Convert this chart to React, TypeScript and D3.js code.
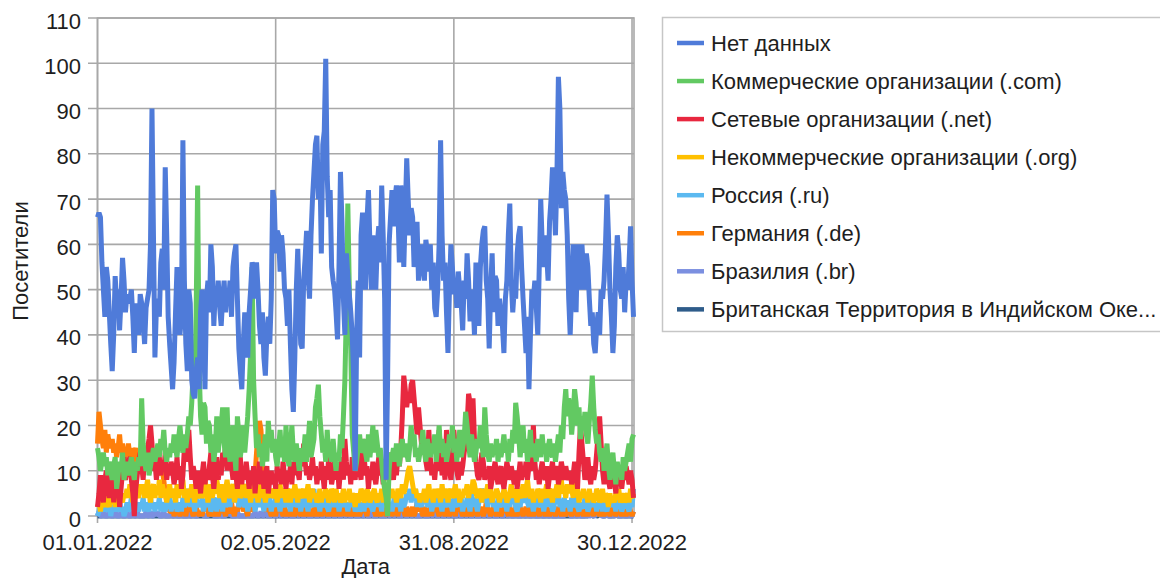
import React from 'react';
import * as d3 from 'd3';

// ---- Data (daily values, 01.01.2022 – 31.12.2022) ----
const seriesNames = [
  'Нет данных',
  'Коммерческие организации (.com)',
  'Сетевые организации (.net)',
  'Некоммерческие организации (.org)',
  'Россия (.ru)',
  'Германия (.de)',
  'Бразилия (.br)',
  'Британская Территория в Индийском Оке...',
];
const seriesColors = ['#4f7bd9', '#62c962', '#e8283f', '#ffc000', '#5bb9f0', '#ff7f0a', '#7b8fe0', '#2e5c8a'];

const tickLabels = ['01.01.2022', '02.05.2022', '31.08.2022', '30.12.2022'];
const yTicks = [0, 10, 20, 30, 40, 50, 60, 70, 80, 90, 100, 110];

const noData = [
  66,67,66,56,50,44,55,52,45,38,
  32,40,53,47,50,41,48,57,52,45,
  49,47,48,50,44,36,47,44,40,49,
  47,43,38,46,48,50,60,90,62,35,
  46,48,44,56,59,50,77,62,44,38,
  33,28,34,45,55,48,40,44,83,52,
  38,32,50,47,30,27,26,32,35,28,
  45,50,40,28,48,52,45,60,55,42,
  50,47,52,46,42,48,52,45,50,47,
  52,44,55,58,60,48,37,32,28,38,
  45,42,35,45,50,56,55,48,56,50,
  42,38,45,35,31,40,44,38,48,72,
  70,58,63,62,54,62,58,50,48,42,
  50,38,28,23,35,50,59,48,38,37,
  52,57,63,53,48,62,70,76,82,84,
  70,78,58,82,85,101,75,66,72,55,
  52,50,45,39,55,76,65,48,40,58,
  53,49,45,40,30,10,40,52,35,62,
  67,61,50,65,72,60,50,62,55,50,
  60,64,56,73,62,48,8,30,60,66,
  72,64,70,73,68,56,73,67,55,67,
  79,70,62,68,66,55,61,65,52,57,
  60,55,52,61,58,54,60,50,56,46,
  44,50,60,83,62,52,56,45,36,50,
  60,55,49,52,46,54,50,47,41,52,
  48,58,52,43,50,48,40,56,50,42,
  55,60,63,64,52,48,37,50,58,45,
  53,52,42,48,45,42,36,48,52,62,
  69,52,45,50,48,58,62,64,55,48,
  42,36,44,28,40,50,48,52,46,40,
  55,70,60,55,62,58,52,65,70,77,
  70,62,75,97,90,68,76,72,70,62,
  48,40,50,60,55,45,60,55,50,60,
  54,50,58,55,48,42,45,38,36,42,
  45,40,50,48,52,60,71,62,50,44,
  36,42,55,62,58,50,48,55,45,52,
  50,56,64,52,44,
];

const comOrg = [
  15,13,10,12,14,11,13,9,12,10,
  8,11,13,6,9,12,10,14,8,10,
  12,9,11,13,10,8,12,10,13,11,
  26,16,12,10,14,9,11,13,15,12,
  14,16,13,17,15,19,14,12,15,13,
  16,14,18,15,13,17,20,16,14,18,
  15,18,22,20,25,32,28,45,73,33,
  22,18,25,24,16,21,20,14,18,12,
  15,22,14,18,20,24,16,13,24,15,
  12,17,20,14,10,22,18,13,16,20,
  14,18,22,28,36,55,30,22,15,18,
  13,16,11,14,18,12,21,16,19,14,
  17,13,11,15,19,13,16,12,20,14,
  11,15,20,14,12,16,13,10,15,12,
  14,18,12,16,21,13,15,17,24,26,
  29,22,18,14,16,12,19,13,15,12,
  17,13,10,14,12,18,15,22,30,45,
  69,50,37,18,14,10,12,15,18,14,
  15,17,14,12,18,13,16,20,14,19,
  16,13,15,12,8,6,4,0,10,14,
  13,15,12,16,14,11,15,17,13,16,
  14,12,15,20,16,18,13,15,12,14,
  16,19,14,12,17,15,13,16,14,18,
  12,15,20,14,17,13,16,12,14,18,
  15,20,14,17,12,16,19,13,15,17,
  23,20,16,13,18,15,12,14,17,15,
  20,16,13,24,18,14,12,16,13,15,
  14,17,12,16,13,15,18,14,16,12,
  17,14,19,16,25,22,18,13,16,20,
  14,17,12,15,19,13,16,14,12,17,
  15,13,18,14,16,12,15,17,14,13,
  16,12,15,18,14,20,17,24,28,22,
  26,24,18,22,28,25,20,24,17,22,
  19,23,18,16,21,25,31,24,19,16,
  18,14,12,15,10,13,16,11,8,12,
  14,10,7,12,9,11,8,13,10,12,
  14,16,12,17,18,
];

const netOrg = [
  2,5,9,6,3,8,10,6,4,7,
  9,3,8,11,7,2,6,10,13,8,
  10,12,13,8,5,0,6,9,12,14,
  11,8,13,10,15,17,20,16,10,12,
  8,11,13,9,12,10,14,8,11,9,
  12,10,7,9,13,8,11,6,9,15,
  12,17,19,13,8,11,9,6,10,8,
  5,9,12,7,10,8,11,14,9,6,
  10,13,8,11,9,14,12,16,10,18,
  17,11,8,12,9,6,10,13,7,11,
  8,12,9,6,10,7,11,5,9,8,
  12,7,10,6,9,11,5,8,10,7,
  9,6,11,8,10,7,12,9,6,10,
  8,11,7,12,9,13,10,8,14,11,
  16,12,9,11,8,10,13,9,11,7,
  10,8,12,9,6,11,8,13,10,7,
  9,12,8,11,6,10,13,8,17,12,
  9,11,7,13,10,8,12,15,10,8,
  17,14,9,11,6,10,8,12,9,7,
  10,13,9,11,7,12,8,10,9,14,
  10,8,12,9,13,11,15,22,31,28,
  24,27,25,29,30,26,22,18,24,20,
  16,14,17,12,10,19,13,9,11,8,
  12,10,19,14,9,11,8,19,13,10,
  8,12,19,15,10,8,12,9,11,14,
  16,20,27,25,18,26,17,12,9,8,
  10,14,12,8,10,9,11,6,8,10,
  12,9,7,10,11,8,6,9,12,10,
  8,11,9,7,10,6,9,12,8,10,
  9,12,8,11,10,14,20,12,8,10,
  7,10,12,9,8,11,6,9,10,12,
  8,10,11,7,9,12,10,8,11,9,
  8,10,7,9,12,10,6,14,20,16,
  12,8,10,13,9,7,11,8,10,14,
  18,22,16,10,7,12,9,8,6,10,
  12,8,5,9,7,10,6,9,8,11,
  9,7,10,8,4,
];

const nonprofitOrg = [
  2,3,1,4,3,2,5,3,2,4,
  3,5,2,4,3,6,4,3,5,4,
  6,4,7,5,3,6,8,5,4,7,
  5,7,4,6,8,5,3,6,7,4,
  6,5,8,4,7,5,6,3,5,7,
  4,6,5,3,7,4,6,5,8,4,
  5,3,6,4,7,5,3,6,4,5,
  7,4,5,8,6,3,5,7,4,6,
  5,8,6,4,7,5,3,6,8,5,
  4,6,7,3,5,8,6,4,5,7,
  6,4,7,5,3,6,4,8,5,3,
  5,7,4,6,3,5,7,4,6,5,
  4,6,3,5,7,4,6,5,3,6,
  5,3,6,4,7,5,3,6,4,5,
  6,4,5,7,3,5,6,4,5,3,
  4,6,3,5,4,6,5,3,4,6,
  5,3,6,4,5,3,4,6,3,5,
  4,6,3,5,4,2,5,3,4,6,
  5,3,4,6,5,3,4,5,6,4,
  3,5,4,6,3,5,4,3,5,4,
  6,4,5,3,6,5,4,7,5,6,
  8,10,11,9,7,5,6,4,5,3,
  5,4,6,3,5,7,4,5,3,6,
  4,6,5,3,7,4,5,6,3,5,
  6,4,5,7,4,6,3,5,4,6,
  5,7,4,6,5,8,7,5,4,6,
  5,3,6,4,5,7,4,6,3,5,
  4,6,5,3,5,4,6,5,3,4,
  5,7,4,6,5,3,6,4,5,7,
  4,6,8,5,4,6,3,5,4,6,
  5,3,6,4,5,7,4,6,5,3,
  6,5,7,4,6,8,5,6,4,7,
  5,7,6,4,8,5,6,3,5,4,
  6,4,5,3,6,4,5,3,4,6,
  5,3,4,6,3,5,4,2,5,3,
  4,3,5,4,6,3,4,5,3,4,
  5,3,6,4,5,
];

const russia = [
  0,1,3,2,1,4,2,1,3,0,
  2,1,3,1,2,4,1,2,0,1,
  3,1,2,4,2,1,3,2,1,3,
  2,4,1,3,2,1,4,2,3,1,
  3,2,4,1,3,2,1,3,2,4,
  1,3,2,4,1,2,3,1,4,2,
  3,6,4,2,5,3,1,4,2,3,
  2,4,1,3,2,5,3,1,2,4,
  3,1,4,2,3,1,5,2,3,4,
  2,5,3,6,7,4,2,3,5,3,
  2,4,1,3,5,2,4,1,3,2,
  4,2,3,1,5,3,2,4,1,3,
  2,4,6,3,1,4,2,3,5,2,
  3,1,4,2,5,3,2,4,1,3,
  2,5,3,1,4,2,3,6,2,4,
  3,1,4,2,3,5,2,1,3,2,
  4,2,3,5,1,3,2,4,2,3,
  1,3,2,4,3,1,2,3,1,2,
  3,1,4,2,3,5,2,1,3,4,
  2,4,3,1,5,2,3,4,2,3,
  1,3,5,2,4,3,1,4,2,3,
  5,4,6,3,5,4,6,2,4,3,
  2,4,3,5,2,3,4,1,3,2,
  4,2,5,3,1,4,2,3,5,2,
  3,1,4,2,3,5,2,4,1,3,
  2,4,3,1,5,2,4,3,1,3,
  4,6,5,3,4,2,5,3,4,2,
  3,1,4,2,3,5,2,3,1,4,
  2,4,3,5,2,1,3,2,4,3,
  4,5,3,2,4,3,1,3,2,4,
  3,2,4,1,3,5,2,4,3,1,
  2,4,3,5,2,3,1,4,2,3,
  3,1,4,2,3,5,2,1,3,2,
  2,4,3,1,2,3,4,2,3,1,
  3,2,4,1,3,2,1,3,2,4,
  2,3,1,4,2,3,1,2,4,3,
  2,1,3,2,6,
];

const germany = [
  16,23,20,17,15,19,14,18,16,15,
  17,14,16,13,15,18,14,16,12,15,
  14,16,13,15,12,14,15,13,11,14,
  12,14,10,13,15,11,13,12,14,10,
  13,11,9,12,10,8,5,3,2,1,
  1,2,0,1,2,1,0,1,3,1,
  0,2,1,3,1,0,1,2,1,0,
  1,0,2,1,3,1,0,2,1,0,
  2,1,0,1,2,4,1,0,2,1,
  1,3,1,0,2,1,3,2,4,1,
  2,1,0,3,1,2,6,9,14,18,
  21,19,12,5,2,1,3,1,0,2,
  1,0,2,1,3,1,0,2,1,0,
  1,0,2,1,0,1,3,1,0,2,
  1,0,1,2,0,1,0,2,1,0,
  2,1,0,1,3,1,0,1,2,0,
  1,2,0,1,0,2,1,0,3,1,
  0,1,2,0,1,0,1,2,0,1,
  2,3,1,0,2,1,3,2,1,0,
  1,2,0,1,3,1,0,2,1,2,
  0,1,2,1,0,2,1,3,1,0,
  2,1,0,1,2,0,1,3,1,2,
  1,0,2,1,0,1,2,0,3,1,
  2,1,0,1,2,1,0,2,1,0,
  1,2,1,0,2,1,3,1,0,2,
  1,0,2,1,0,1,2,1,0,1,
  2,1,0,1,3,2,1,0,1,2,
  1,0,2,1,0,1,2,3,1,0,
  2,1,0,1,2,0,1,2,1,0,
  1,2,1,0,2,1,0,1,2,1,
  0,1,2,1,0,2,1,0,1,2,
  1,0,1,2,1,0,2,1,0,1,
  2,1,0,1,2,1,0,1,3,1,
  0,2,1,0,1,2,1,0,2,1,
  1,0,2,1,0,1,2,1,0,1,
  2,1,0,1,2,1,0,2,1,0,
  1,2,1,0,1,
];

const brazil = [
  0,1,0,0,1,0,0,0,1,0,
  0,0,1,0,0,0,1,0,0,0,
  1,0,0,0,1,0,0,1,0,0,
  0,0,0,1,0,0,1,0,0,1,
  0,1,0,0,0,1,0,0,0,0,
  1,0,0,1,0,0,0,1,0,0,
  0,0,1,0,0,1,0,0,0,1,
  0,1,0,0,0,0,1,0,1,0,
  0,0,0,1,0,0,0,0,1,0,
  1,0,0,0,0,1,0,0,0,0,
  0,0,1,0,0,0,0,1,0,0,
  0,1,0,0,1,0,0,0,0,1,
  0,0,0,1,0,0,1,0,0,0,
  1,0,0,0,0,1,0,0,1,0,
  0,0,1,0,0,0,0,1,0,0,
  0,1,0,0,0,1,0,0,0,1,
  0,0,0,1,0,0,0,1,0,0,
  1,0,0,0,1,0,0,0,0,1,
  0,0,1,0,0,0,1,0,0,0,
  0,1,0,0,0,0,0,1,0,0,
  1,0,0,1,0,0,0,0,1,0,
  0,0,1,0,0,1,0,0,0,0,
  0,1,0,0,0,0,1,0,0,1,
  0,0,0,1,0,0,0,1,0,0,
  1,0,0,0,0,1,0,0,0,1,
  0,0,1,0,0,0,1,0,0,0,
  0,1,0,0,1,0,0,0,1,0,
  0,0,0,1,0,0,0,1,0,0,
  1,0,0,0,1,0,0,0,0,1,
  0,0,1,0,0,0,1,0,0,0,
  0,1,0,0,0,1,0,0,1,0,
  0,0,0,1,0,0,0,0,1,0,
  1,0,0,0,1,0,0,1,0,0,
  0,0,1,0,0,0,1,0,0,1,
  0,1,0,0,0,1,0,0,0,0,
  1,0,0,1,0,0,0,1,0,0,
  0,1,0,0,1,
];

const britishTerritory = [
  0,0,0,0,0,0,0,0,0,0,
  0,0,0,0,0,0,0,0,0,0,
  0,0,0,0,0,0,0,0,0,0,
  0,0,0,0,0,0,0,0,0,0,
  0,0,0,0,0,0,0,0,0,0,
  0,0,0,0,0,0,0,0,0,0,
  0,0,0,0,0,0,0,0,0,0,
  0,0,0,0,0,0,0,0,0,0,
  0,0,0,0,0,0,0,0,0,0,
  0,0,0,0,0,0,0,0,0,0,
  0,0,0,0,0,0,0,0,0,0,
  0,0,0,0,0,0,0,0,0,0,
  0,0,0,0,0,0,0,0,0,0,
  0,0,0,0,0,0,0,0,0,0,
  0,0,0,0,0,0,0,0,0,0,
  0,0,0,0,0,0,0,0,0,0,
  0,0,0,0,0,0,0,0,0,0,
  0,0,0,0,0,0,0,0,0,0,
  0,0,0,0,0,0,0,0,0,0,
  0,0,0,0,0,0,0,0,0,0,
  0,0,0,0,0,0,0,0,0,0,
  0,0,0,0,0,0,0,0,0,0,
  0,0,0,0,0,0,0,0,0,0,
  0,0,0,0,0,0,0,0,0,0,
  0,0,0,0,0,0,0,0,0,0,
  0,0,0,0,0,0,0,0,0,0,
  0,0,0,0,0,0,0,0,0,0,
  0,0,0,0,0,0,0,0,0,0,
  0,0,0,0,0,0,0,0,0,0,
  0,0,0,0,0,0,0,0,0,0,
  0,0,0,0,0,0,0,0,0,0,
  0,0,0,0,0,0,0,0,0,0,
  0,0,0,0,0,0,0,0,0,0,
  0,0,0,0,1,1,0,0,1,0,
  0,1,1,0,0,0,1,0,0,0,
  0,0,1,0,0,0,0,0,0,0,
  0,0,0,0,0,
];

const seriesValues = [noData, comOrg, netOrg, nonprofitOrg, russia, germany, brazil, britishTerritory];

const FONT = '"Liberation Sans", Arial, sans-serif';

export default function App() {
  const W = 1160;
  const H = 578;
  const left = 97.5, right = 634, top = 18, bottom = 516;

  const start = new Date(2022, 0, 1);
  const end = new Date(2022, 11, 31);
  const dates = d3.timeDay.range(start, d3.timeDay.offset(end, 1));
  const x = d3.scaleTime().domain([start, end]).range([left, 633.5]);
  const y = d3.scaleLinear().domain([0, 110]).range([bottom, top]);
  const parse = d3.timeParse('%d.%m.%Y');
  const tickDates = tickLabels.map((t) => parse(t) as Date);

  const line = d3
    .line<number>()
    .x((_, i) => x(dates[i]))
    .y((d) => y(d));

  const gridColor = '#a8a8a8';
  const textColor = '#1e1e1e';
  const order = seriesValues.map((_, i) => i).reverse();
  const fs = 22;

  return (
    <svg
      width={W}
      height={H}
      style={{ position: 'absolute', left: 0, top: 0, background: '#fff' }}
      fontFamily={FONT}
    >
      <rect x={0} y={0} width={W} height={H} fill="#fff" />
      {/* horizontal grid + y ticks */}
      {yTicks.map((t) => (
        <g key={'y' + t}>
          <line x1={88} x2={right} y1={y(t)} y2={y(t)} stroke={gridColor} strokeWidth={1.6} />
          <text x={81} y={y(t) + 10.5} textAnchor="end" fontSize={fs} fill={textColor}>
            {t}
          </text>
        </g>
      ))}
      {/* vertical grid + x ticks */}
      {tickDates.map((d, i) => (
        <g key={'x' + i}>
          <line x1={x(d)} x2={x(d)} y1={top} y2={bottom + 7} stroke={gridColor} strokeWidth={1.6} />
          <text x={x(d)} y={550} textAnchor="middle" fontSize={fs} fill={textColor}>
            {tickLabels[i]}
          </text>
        </g>
      ))}
      <rect x={left} y={top} width={right - left} height={bottom - top} fill="none" stroke={gridColor} strokeWidth={1.6} />

      {/* series */}
      {order.map((i) => (
        <path
          key={'s' + i}
          d={line(seriesValues[i]) || ''}
          fill="none"
          stroke={seriesColors[i]}
          strokeWidth={5}
          strokeLinejoin="bevel"
        />
      ))}

      {/* axis titles */}
      <text x={(left + right) / 2} y={574} textAnchor="middle" fontSize={fs} fill={textColor}>
        Дата
      </text>
      <text
        transform={`translate(28, 261) rotate(-90)`}
        textAnchor="middle"
        fontSize={fs}
        fill={textColor}
      >
        Посетители
      </text>

      {/* legend */}
      <rect x={662.5} y={17.5} width={520} height={314} fill="#fff" stroke="#c6c6c6" strokeWidth={1.5} />
      {seriesNames.map((name, i) => {
        const cy = 43 + i * 38.05;
        return (
          <g key={'l' + i}>
            <line x1={677} x2={704} y1={cy} y2={cy} stroke={seriesColors[i]} strokeWidth={4.5} />
            <text x={711} y={cy + 8} fontSize={fs} fill={textColor}>
              {name}
            </text>
          </g>
        );
      })}
    </svg>
  );
}
